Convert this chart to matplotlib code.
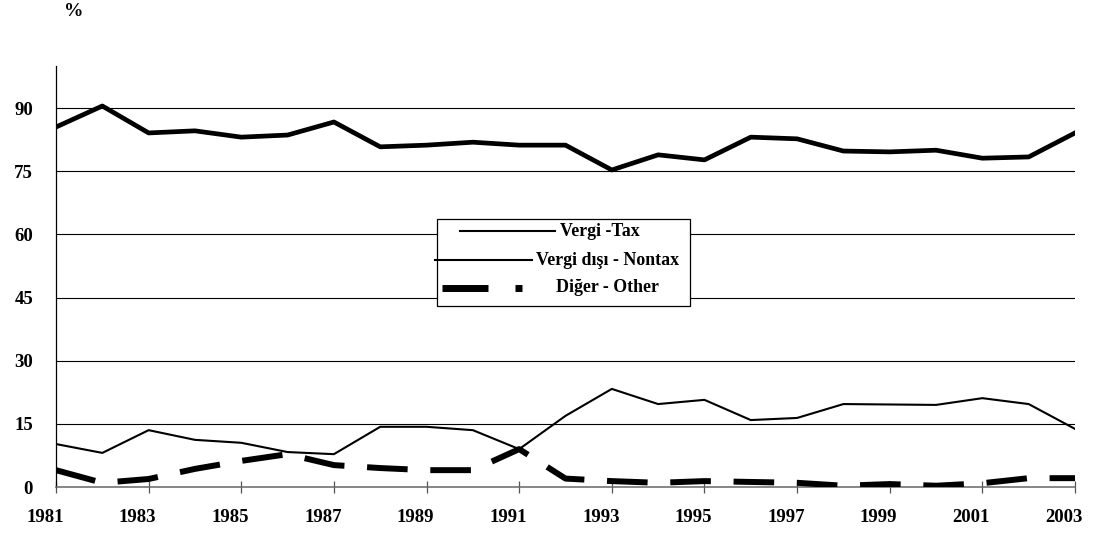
import matplotlib
matplotlib.use("Agg")
import matplotlib.pyplot as plt
from matplotlib.lines import Line2D
from matplotlib.patches import Rectangle
from matplotlib.transforms import ScaledTranslation

years = list(range(1981, 2004))
tax = [85.5, 90.5, 84.1, 84.6, 83.1, 83.6, 86.7, 80.8, 81.2, 81.9, 81.2, 81.2,
       75.3, 78.9, 77.7, 83.1, 82.7, 79.8, 79.6, 80.0, 78.1, 78.4, 84.1]
nontax = [10.2, 8.1, 13.5, 11.2, 10.5, 8.3, 7.8, 14.3, 14.3, 13.5, 9.0, 16.9,
          23.3, 19.7, 20.7, 15.9, 16.4, 19.7, 19.6, 19.5, 21.1, 19.7, 13.8]
other = [4.0, 1.0, 1.9, 4.3, 6.2, 7.8, 5.2, 4.5, 4.0, 4.0, 9.0, 2.0,
         1.4, 1.0, 1.4, 1.2, 1.0, 0.3, 0.7, 0.3, 0.9, 2.1, 2.1]
yticks = [0, 15, 30, 45, 60, 75, 90]
xticks = list(range(1981, 2004, 2))
labels = ["Vergi -Tax", "Vergi dışı - Nontax", "Diğer - Other"]

plt.rcParams['font.family'] = ['Liberation Serif', 'DejaVu Serif']
plt.rcParams['font.weight'] = 'bold'

W, H = 1103, 534
fig = plt.figure(figsize=(W/100, H/100), dpi=100)
ax = fig.add_axes([56/W, 1-487/H, (1075-56)/W, (487-66)/H])

def fx(px):
    return px / W

def fy(py):
    return 1 - py / H

for y in yticks[1:]:
    ax.axhline(y, color='black', lw=0.8, zorder=1)

ax.plot(years, tax, color='black', lw=3.4, zorder=3)
ax.plot(years, nontax, color='black', lw=1.5, zorder=3)
ax.plot(years, other, color='black', lw=4.3, dashes=(6.8, 3.8), zorder=3,
        dash_capstyle='butt')

ax.set_xlim(1981, 2003)
ax.set_ylim(0, 100)
ax.set_yticks(yticks)
ax.set_xticks(xticks)
ax.tick_params(axis='y', length=0, pad=16.5, labelsize=13.5)
ax.tick_params(axis='x', direction='inout', length=8, width=0.9, pad=12, labelsize=13.5,
               color='#555555')
shift = ScaledTranslation(-11/100, 0, fig.dpi_scale_trans)
for lab in ax.get_xticklabels():
    lab.set_fontweight('bold')
    lab.set_transform(lab.get_transform() + shift)
for lab in ax.get_yticklabels():
    lab.set_fontweight('bold')

ax.spines['top'].set_visible(False)
ax.spines['right'].set_visible(False)
ax.spines['left'].set_linewidth(0.9)
ax.spines['bottom'].set_color('#666666')
ax.spines['bottom'].set_linewidth(1.1)

fig.text(fx(74), fy(11), "%", fontsize=14, fontweight='bold', ha='center', va='center')

# legend box drawn manually to match the reference layout
fig.patches.append(Rectangle((fx(437), fy(306)), fx(690) - fx(437), fy(219) - fy(306),
                             transform=fig.transFigure, facecolor='white',
                             edgecolor='black', lw=0.9, zorder=5))
fig.lines.append(Line2D([fx(460), fx(555)], [fy(231), fy(231)], color='black', lw=1.5,
                        transform=fig.transFigure, zorder=6))
fig.lines.append(Line2D([fx(435), fx(532)], [fy(260), fy(260)], color='black', lw=1.5,
                        transform=fig.transFigure, zorder=6))
fig.lines.append(Line2D([fx(442), fx(488)], [fy(288), fy(288)], color='black', lw=5,
                        solid_capstyle='butt', transform=fig.transFigure, zorder=6))
fig.lines.append(Line2D([fx(515), fx(522)], [fy(288), fy(288)], color='black', lw=5,
                        solid_capstyle='butt', transform=fig.transFigure, zorder=6))
for x0, y0, t in [(560, 231, labels[0]), (536, 260, labels[1]), (556, 288, labels[2])]:
    fig.text(fx(x0), fy(y0), t, fontsize=12.9, fontweight='bold', ha='left',
             va='center', zorder=7)

fig.savefig("out.png", dpi=100)
